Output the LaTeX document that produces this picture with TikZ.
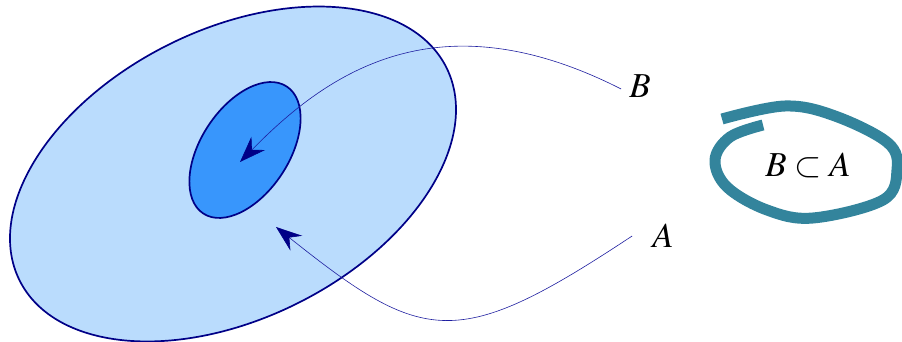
\documentclass[tikz,border=0pt]{standalone}
\usepackage{mathptmx}
\usetikzlibrary{arrows.meta,shapes.geometric}
\definecolor{outerfill}{RGB}{186,220,253}
\definecolor{innerfill}{RGB}{56,150,252}
\definecolor{navyline}{RGB}{0,0,135}
\definecolor{curveline}{RGB}{30,30,160}
\definecolor{loopteal}{RGB}{51,132,156}
\tikzset{
  setbox/.style={ellipse, draw=navyline, line width=1.7pt, inner sep=0pt},
  pointer/.style={draw=curveline, line width=0.6pt,
    -{Stealth[length=26pt, width=19pt, inset=9pt, color=navyline, fill=navyline]}},
  lab/.style={inner sep=0pt, font=\fontsize{35}{40}\selectfont},
}
\begin{document}
\begin{tikzpicture}[x=1pt,y=1pt]
\useasboundingbox (0,0) rectangle (902,342);
% sets
\node[setbox, fill=outerfill, minimum width=477pt, minimum height=289pt, rotate=26.5] (setA) at (233,168) {};
\node[setbox, fill=innerfill, minimum width=152pt, minimum height=88pt, rotate=56.7] (setB) at (245,192) {};
\coordinate (tipB) at (240,180);
\coordinate (tipA) at (276,115);
% labels
\node[lab] (labB) at (640,256) {$B$};
\node[lab] (labA) at (663,106) {$A$};
\node[lab] (rel) at (808,177) {$B\subset A$};
% pointers
\draw[pointer] ([xshift=-8pt,yshift=-3pt]labB.west) .. controls (440,345) and (330,272) .. (tipB);
\draw[pointer] ([xshift=-20pt]labA.west) .. controls (457,-10) and (424,-3) .. (tipA);
% hand-drawn loop
\draw[loopteal, line width=11pt, line cap=butt] plot[smooth, tension=0.6] coordinates {
 (722,223) (785,236) (835,226) (888,199) (897,172) (883,142) (813,124)
 (767,132) (727,155) (715,182) (730,205) (763,217)};
\end{tikzpicture}
\end{document}
